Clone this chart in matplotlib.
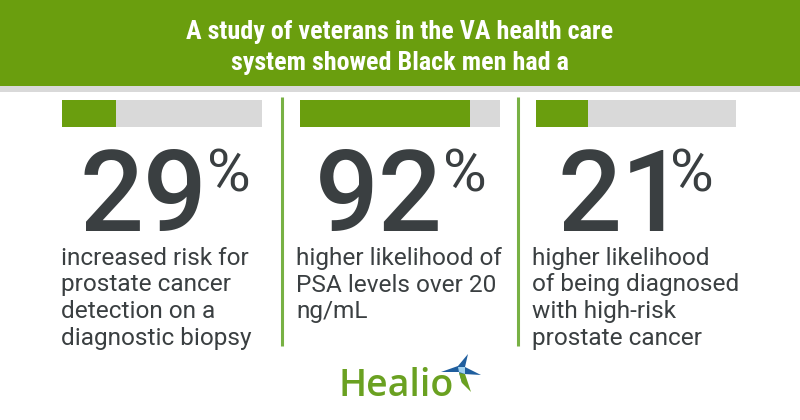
import matplotlib.pyplot as plt
from matplotlib.patches import Rectangle, Polygon

# values shown in the infographic
values = [29, 92, 21]
# how far each little progress bar is filled (%)
bar_fill = [27, 85, 26]
captions = [
    ["increased risk for", "prostate cancer", "detection on a", "diagnostic biopsy"],
    ["higher likelihood of", "PSA levels over 20", "ng/mL"],
    ["higher likelihood", "of being diagnosed", "with high-risk", "prostate cancer"],
]
title_lines = ["A study of veterans in the VA health care",
               "system showed Black men had a"]

GREEN = "#6a9e0e"
LIGHT_GREEN = "#78b144"
GREY = "#d9d9d9"
DARK = "#3a3f41"

W, H = 800, 420
fig = plt.figure(figsize=(8, 4.2), dpi=100)
fig.patch.set_facecolor("white")

# overlay axes in pixel coordinates for the layout pieces
ax = fig.add_axes([0, 0, 1, 1])
ax.set_xlim(0, W)
ax.set_ylim(H, 0)
ax.axis("off")

# header band
ax.add_patch(Rectangle((0, 0), W, 86, color=GREEN, lw=0))
ax.add_patch(Rectangle((0, 86), W, 6, color=GREY, lw=0))
for i, line in enumerate(title_lines):
    ax.text(400, 39.5 + i * 30.5, line, ha="center", va="baseline",
            color="white", fontsize=18.8, fontweight="bold",
            family="Roboto Condensed")

# vertical dividers
for x in [282, 518]:
    ax.plot([x, x], [97, 346], color=LIGHT_GREEN, lw=2.2, solid_capstyle="butt")

col_x = [62, 300, 536]
text_x = [61, 296, 532]
num_x = [80, 315, 558]
pct_x = [207, 443, 670]

for i in range(3):
    # progress bar, drawn through its own small axes
    bax = fig.add_axes([col_x[i] / W, 1 - 127 / H, 200 / W, 27 / H])
    bax.barh(0, 100, height=1, color=GREY, lw=0)
    bax.barh(0, bar_fill[i], height=1, color=GREEN, lw=0)
    bax.set_xlim(0, 100)
    bax.set_ylim(-0.5, 0.5)
    bax.axis("off")

    # big number + percent sign
    ax.text(num_x[i], 231, f"{values[i]}", ha="left", va="baseline",
            color=DARK, fontsize=81, fontweight="medium", family="Roboto")
    ax.text(pct_x[i], 191, "%", ha="left", va="baseline",
            color=DARK, fontsize=43, family="Roboto")

    for j, line in enumerate(captions[i]):
        ax.text(text_x[i], 265 + j * 26.5, line, ha="left", va="baseline",
                color=DARK, fontsize=17.6, family="Roboto")

# Healio logo
ax.text(339, 396, "Healio", ha="left", va="baseline", color="#6aa121",
        fontsize=27, fontweight="semibold", family="Open Sans")
star = [(441, 372), (458, 366), (468, 354), (465, 367), (481, 375),
        (464, 374), (462, 383), (459, 372)]
ax.add_patch(Polygon(star, closed=True, color="#1f5e9e", lw=0))
ax.add_patch(Polygon([(459, 373), (465, 374), (471, 392), (462, 383)],
                     closed=True, color="#6aa121", lw=0))
ax.add_patch(Polygon([(458, 367), (465, 367), (465, 374), (459, 372)],
                     closed=True, color="#9fd0ee", lw=0))

plt.savefig("out.png", dpi=100)
